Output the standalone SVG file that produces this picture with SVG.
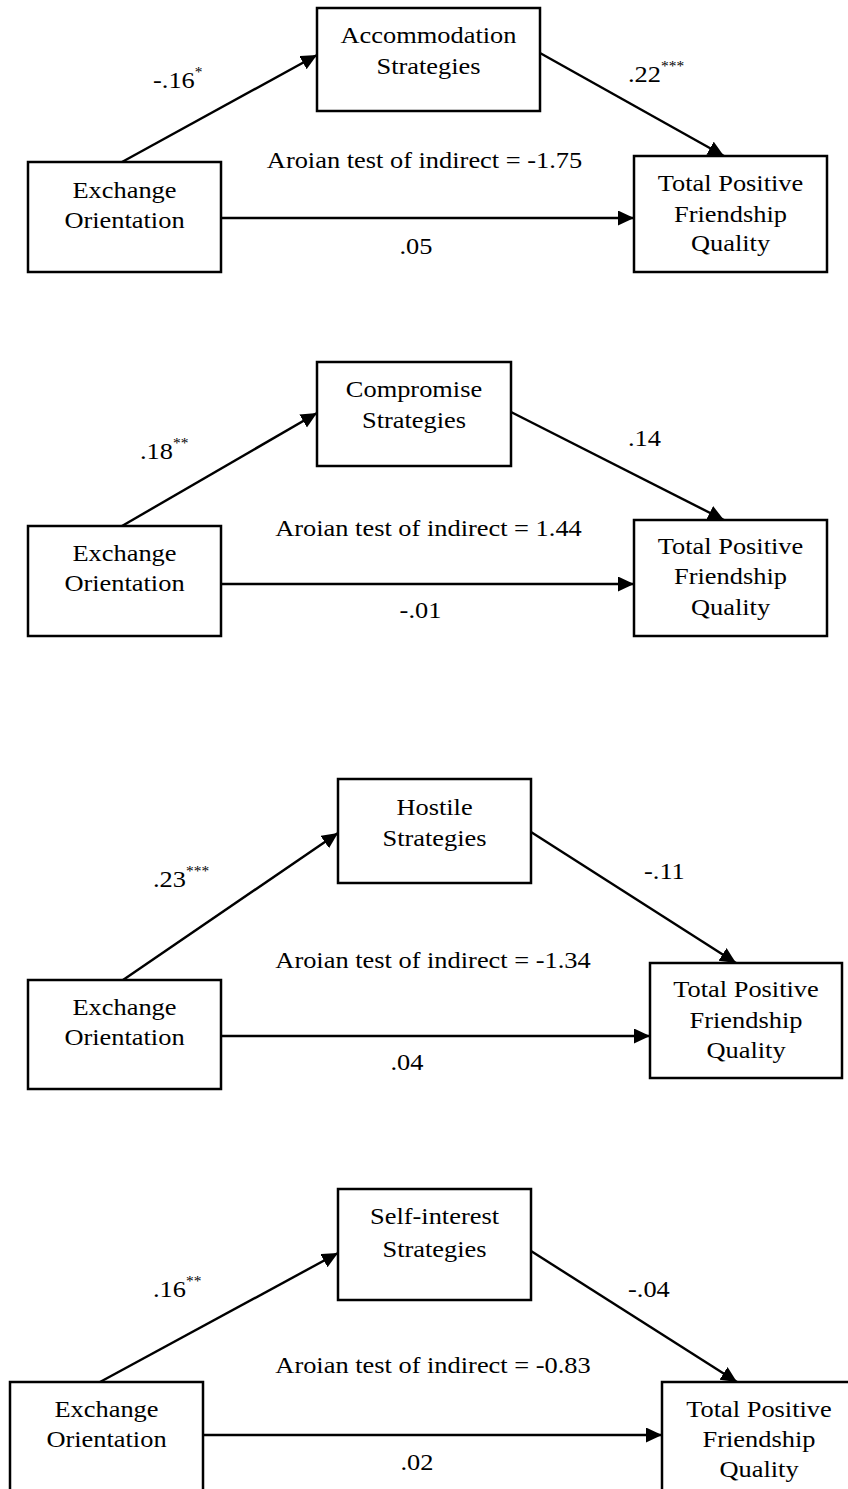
<svg xmlns="http://www.w3.org/2000/svg" width="848" height="1489" viewBox="0 0 848 1489">
  <style>
    .box { fill: #fff; stroke: #000; stroke-width: 2.5; }
    .edge { stroke: #000; stroke-width: 2.4; fill: none; marker-end: url(#arrow); }
    text { font-family: "Liberation Serif", "Times New Roman", serif; font-size: 24px; fill: #000; }
    .c { text-anchor: middle; }
    .sup { font-size: 14px; }
  </style>
  <defs>
    <marker id="arrow" markerUnits="userSpaceOnUse" markerWidth="17" markerHeight="16" refX="16" refY="7.5" orient="auto">
      <path d="M0,0 L16,7.5 L0,15 z" fill="#000"/>
    </marker>
  </defs>
  <rect width="848" height="1489" fill="#fff"/>

  <!-- connectors -->
  <g id="connectors">
    <!-- model 1 -->
    <line class="edge" x1="122" y1="162" x2="317" y2="55"/>
    <line class="edge" x1="540" y1="53" x2="724" y2="156"/>
    <line class="edge" x1="221" y1="218" x2="634" y2="218"/>
    <!-- model 2 -->
    <line class="edge" x1="122" y1="526" x2="317" y2="413"/>
    <line class="edge" x1="511" y1="412" x2="724" y2="520"/>
    <line class="edge" x1="221" y1="584" x2="634" y2="584"/>
    <!-- model 3 -->
    <line class="edge" x1="123" y1="980" x2="338" y2="833"/>
    <line class="edge" x1="531" y1="832" x2="736" y2="963"/>
    <line class="edge" x1="221" y1="1036" x2="650" y2="1036"/>
    <!-- model 4 -->
    <line class="edge" x1="100" y1="1382" x2="338" y2="1253"/>
    <line class="edge" x1="531" y1="1251" x2="737" y2="1382"/>
    <line class="edge" x1="203" y1="1435" x2="662" y2="1435"/>
  </g>

  <!-- path coefficients and indirect-effect tests -->
  <g id="labels">
    <text transform="translate(153 88) scale(1.1 1)">-.16<tspan class="sup" dy="-11">*</tspan></text>
    <text transform="translate(628 82) scale(1.1 1)">.22<tspan class="sup" dy="-11">***</tspan></text>
    <text class="c" transform="translate(424.5 168) scale(1.1 1)">Aroian test of indirect = -1.75</text>
    <text class="c" transform="translate(416 254) scale(1.1 1)">.05</text>

    <text transform="translate(140 459) scale(1.1 1)">.18<tspan class="sup" dy="-11">**</tspan></text>
    <text transform="translate(628 446) scale(1.1 1)">.14</text>
    <text class="c" transform="translate(428.5 536) scale(1.1 1)">Aroian test of indirect = 1.44</text>
    <text class="c" transform="translate(420.5 618) scale(1.1 1)">-.01</text>

    <text transform="translate(153 887) scale(1.1 1)">.23<tspan class="sup" dy="-11">***</tspan></text>
    <text transform="translate(644 879) scale(1.1 1)">-.11</text>
    <text class="c" transform="translate(433 968) scale(1.1 1)">Aroian test of indirect = -1.34</text>
    <text class="c" transform="translate(407 1070) scale(1.1 1)">.04</text>

    <text transform="translate(153 1297) scale(1.1 1)">.16<tspan class="sup" dy="-11">**</tspan></text>
    <text transform="translate(628 1297) scale(1.1 1)">-.04</text>
    <text class="c" transform="translate(433 1373) scale(1.1 1)">Aroian test of indirect = -0.83</text>
    <text class="c" transform="translate(417 1470) scale(1.1 1)">.02</text>
  </g>

  <!-- model 1 nodes -->
  <g id="m1-exchange">
    <rect class="box" x="28" y="162" width="193" height="110"/>
    <text class="c" transform="translate(124.5 198) scale(1.1 1)">Exchange</text>
    <text class="c" transform="translate(124.5 228) scale(1.1 1)">Orientation</text>
  </g>
  <g id="m1-accommodation">
    <rect class="box" x="317" y="8" width="223" height="103"/>
    <text class="c" transform="translate(428.5 43) scale(1.1 1)">Accommodation</text>
    <text class="c" transform="translate(428.5 74) scale(1.1 1)">Strategies</text>
  </g>
  <g id="m1-quality">
    <rect class="box" x="634" y="156" width="193" height="116"/>
    <text class="c" transform="translate(730.5 191) scale(1.1 1)">Total Positive</text>
    <text class="c" transform="translate(730.5 222) scale(1.1 1)">Friendship</text>
    <text class="c" transform="translate(730.5 251) scale(1.1 1)">Quality</text>
  </g>

  <!-- model 2 nodes -->
  <g id="m2-exchange">
    <rect class="box" x="28" y="526" width="193" height="110"/>
    <text class="c" transform="translate(124.5 561) scale(1.1 1)">Exchange</text>
    <text class="c" transform="translate(124.5 591) scale(1.1 1)">Orientation</text>
  </g>
  <g id="m2-compromise">
    <rect class="box" x="317" y="362" width="194" height="104"/>
    <text class="c" transform="translate(414 397) scale(1.1 1)">Compromise</text>
    <text class="c" transform="translate(414 428) scale(1.1 1)">Strategies</text>
  </g>
  <g id="m2-quality">
    <rect class="box" x="634" y="520" width="193" height="116"/>
    <text class="c" transform="translate(730.5 554) scale(1.1 1)">Total Positive</text>
    <text class="c" transform="translate(730.5 584) scale(1.1 1)">Friendship</text>
    <text class="c" transform="translate(730.5 615) scale(1.1 1)">Quality</text>
  </g>

  <!-- model 3 nodes -->
  <g id="m3-exchange">
    <rect class="box" x="28" y="980" width="193" height="109"/>
    <text class="c" transform="translate(124.5 1015) scale(1.1 1)">Exchange</text>
    <text class="c" transform="translate(124.5 1045) scale(1.1 1)">Orientation</text>
  </g>
  <g id="m3-hostile">
    <rect class="box" x="338" y="779" width="193" height="104"/>
    <text class="c" transform="translate(434.5 815) scale(1.1 1)">Hostile</text>
    <text class="c" transform="translate(434.5 846) scale(1.1 1)">Strategies</text>
  </g>
  <g id="m3-quality">
    <rect class="box" x="650" y="963" width="192" height="115"/>
    <text class="c" transform="translate(746 997) scale(1.1 1)">Total Positive</text>
    <text class="c" transform="translate(746 1028) scale(1.1 1)">Friendship</text>
    <text class="c" transform="translate(746 1058) scale(1.1 1)">Quality</text>
  </g>

  <!-- model 4 nodes -->
  <g id="m4-exchange">
    <rect class="box" x="10" y="1382" width="193" height="120"/>
    <text class="c" transform="translate(106.5 1417) scale(1.1 1)">Exchange</text>
    <text class="c" transform="translate(106.5 1447) scale(1.1 1)">Orientation</text>
  </g>
  <g id="m4-selfinterest">
    <rect class="box" x="338" y="1189" width="193" height="111"/>
    <text class="c" transform="translate(434.5 1224) scale(1.1 1)">Self-interest</text>
    <text class="c" transform="translate(434.5 1257) scale(1.1 1)">Strategies</text>
  </g>
  <g id="m4-quality">
    <rect class="box" x="662" y="1382" width="194" height="120"/>
    <text class="c" transform="translate(759 1417) scale(1.1 1)">Total Positive</text>
    <text class="c" transform="translate(759 1447) scale(1.1 1)">Friendship</text>
    <text class="c" transform="translate(759 1477) scale(1.1 1)">Quality</text>
  </g>
</svg>
